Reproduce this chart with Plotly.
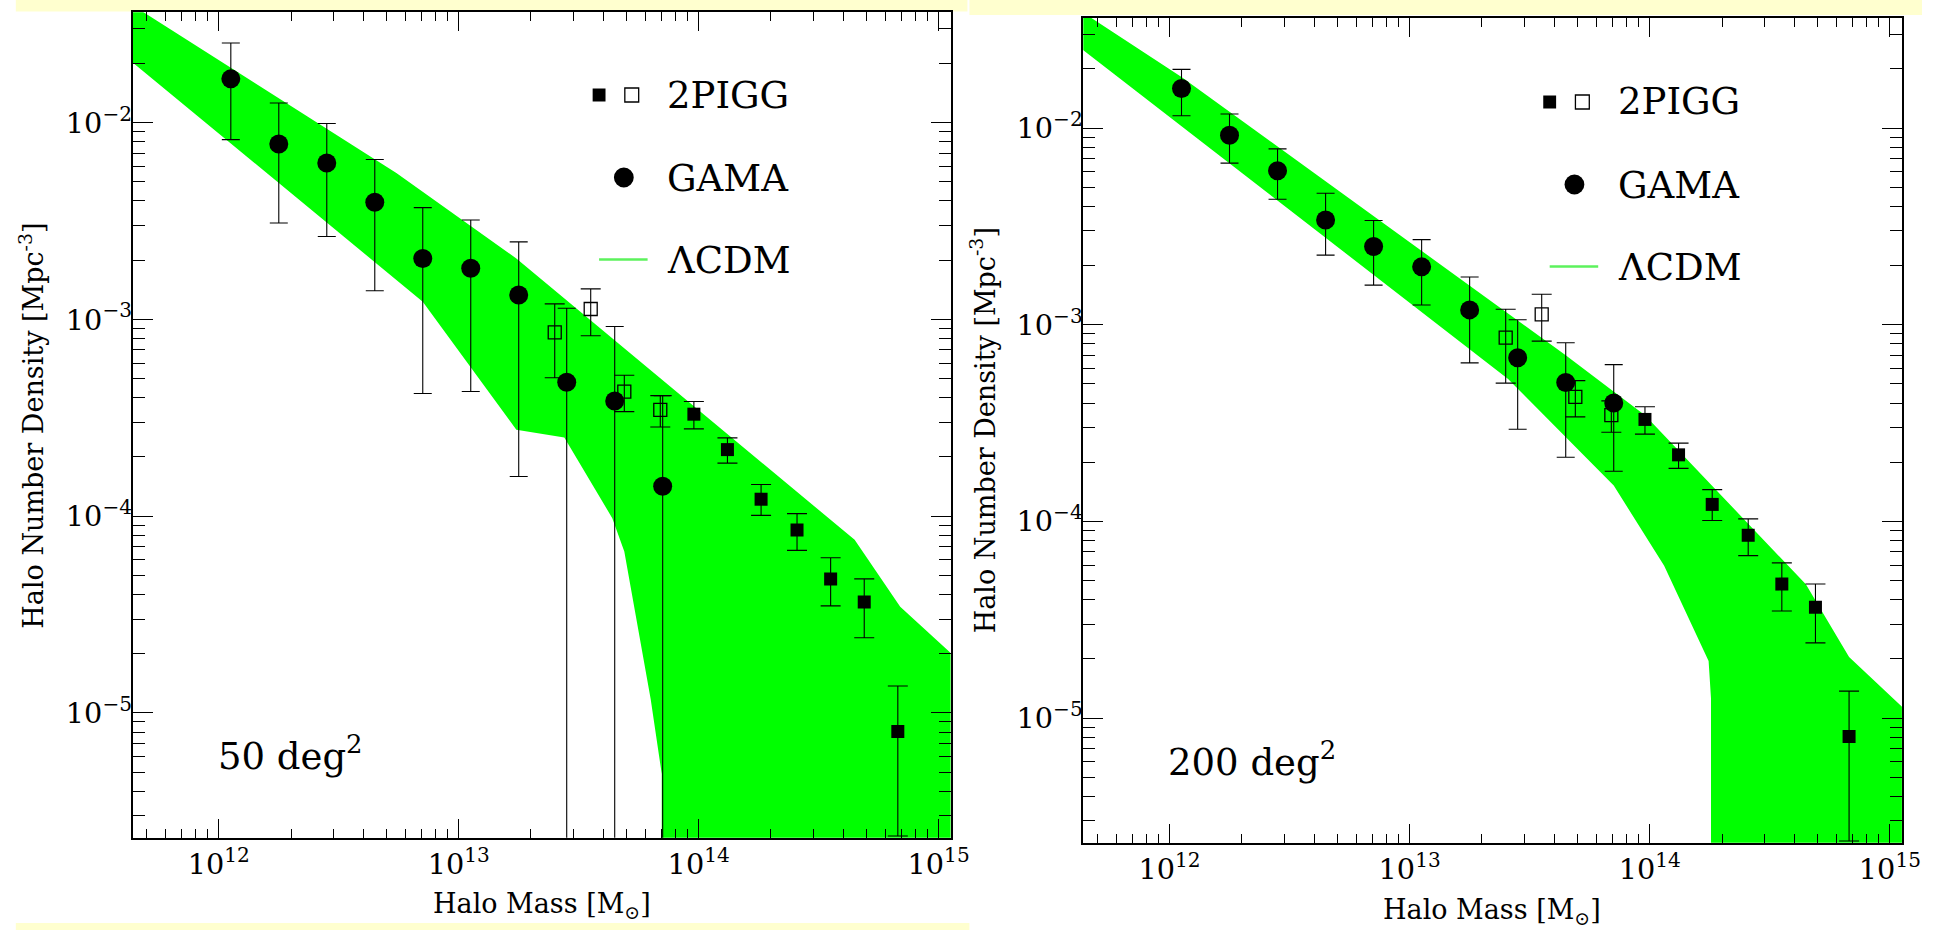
import plotly.graph_objects as go

W, H = 1941, 930

# ---------------- data ----------------
gama_mass = [1.122e12, 1.778e12, 2.818e12, 4.467e12, 7.079e12,
             1.122e13, 1.778e13, 2.818e13, 4.467e13, 7.079e13]

gama50_n = [1.67e-2, 7.8e-3, 6.24e-3, 3.94e-3, 2.04e-3, 1.82e-3, 1.33e-3, 4.8e-4, 3.85e-4, 1.42e-4]
gama50_hi = [2.54e-2, 1.26e-2, 9.9e-3, 6.5e-3, 3.7e-3, 3.2e-3, 2.48e-3, 1.14e-3, 9.2e-4, 4.1e-4]
gama50_lo = [8.2e-3, 3.09e-3, 2.64e-3, 1.40e-3, 4.2e-4, 4.3e-4, 1.59e-4, 1e-7, 1e-7, 1e-7]

gama200_n = [1.59e-2, 9.2e-3, 6.07e-3, 3.41e-3, 2.5e-3, 1.97e-3, 1.19e-3, 6.8e-4, 5.09e-4, 4.0e-4]
gama200_hi = [1.99e-2, 1.18e-2, 7.84e-3, 4.66e-3, 3.39e-3, 2.71e-3, 1.75e-3, 1.06e-3, 8.1e-4, 6.27e-4]
gama200_lo = [1.156e-2, 6.64e-3, 4.35e-3, 2.26e-3, 1.59e-3, 1.26e-3, 6.4e-4, 2.94e-4, 2.12e-4, 1.8e-4]

pigg_open_mass = [2.512e13, 3.548e13, 4.898e13, 6.918e13]
pigg_open_n = [8.6e-4, 1.13e-3, 4.3e-4, 3.47e-4]
pigg_open_hi = [1.2e-3, 1.43e-3, 5.2e-4, 4.1e-4]
pigg_open_lo = [5.05e-4, 8.26e-4, 3.4e-4, 2.84e-4]

pigg_mass = [9.55e13, 1.318e14, 1.820e14, 2.570e14, 3.548e14, 4.898e14, 6.761e14]
pigg_n = [3.3e-4, 2.18e-4, 1.22e-4, 8.5e-5, 4.8e-5, 3.66e-5, 8.05e-6]
pigg_hi = [3.83e-4, 2.5e-4, 1.45e-4, 1.03e-4, 6.15e-5, 4.8e-5, 1.37e-5]
pigg_lo = [2.78e-4, 1.86e-4, 1.01e-4, 6.7e-5, 3.5e-5, 2.41e-5, 2.37e-6]

# LCDM band outlines (upper edge left->right, lower edge left->right)
lcdm50_up_mass = [3.162e11, 5.495e12, 1.738e13, 4.467e14, 6.918e14, 1.259e15]
lcdm50_up_n = [5.08e-2, 5.546e-3, 2.042e-3, 7.586e-5, 3.467e-5, 1.778e-5]
lcdm50_lo_mass = [3.162e11, 7.079e12, 1.738e13, 2.754e13, 4.365e13, 4.898e13, 6.310e13, 7.015e13, 7.015e13, 1.259e15]
lcdm50_lo_n = [2.805e-2, 1.230e-3, 2.754e-4, 2.512e-4, 9.772e-5, 6.607e-5, 1.175e-5, 4.898e-6, 3.162e-7, 3.162e-7]

lcdm200_up_mass = [3.162e11, 1.122e12, 4.467e13, 9.550e13, 4.467e14, 6.761e14, 1.259e15]
lcdm200_up_n = [5.01e-2, 1.820e-2, 6.998e-4, 3.467e-4, 4.786e-5, 2.042e-5, 1.0e-5]
lcdm200_lo_mass = [3.162e11, 2.570e13, 7.079e13, 1.148e14, 1.758e14, 1.799e14, 1.799e14, 1.259e15]
lcdm200_lo_n = [3.388e-2, 5.297e-4, 1.521e-4, 5.957e-5, 1.950e-5, 1.259e-5, 3.162e-7, 3.162e-7]

panel_labels = ["50 deg<sup>2</sup>", "200 deg<sup>2</sup>"]
legend_names = ["2PIGG", "GAMA", "\u039bCDM"]

# ---------------- layout helpers ----------------
def px(x):
    return x / W

def py(y):
    return 1 - y / H

FONT = "DejaVu Serif"
GREEN = "#00FF00"
LEG_GREEN = "#5CF25C"

fig = go.Figure()

def errs(n, hi, lo):
    return [h - v for v, h in zip(n, hi)], [v - l for v, l in zip(n, lo)]

def add_panel(k, gn, ghi, glo, up_m, up_n, lo_m, lo_n):
    xa = "x" if k == 0 else "x2"
    ya = "y" if k == 0 else "y2"
    # band
    fig.add_trace(go.Scatter(
        x=up_m + lo_m[::-1], y=up_n + lo_n[::-1], fill="toself",
        fillcolor=GREEN, line=dict(width=0, color=GREEN), mode="lines",
        hoverinfo="skip", showlegend=False, xaxis=xa, yaxis=ya))
    # GAMA
    a, b = errs(gn, ghi, glo)
    fig.add_trace(go.Scatter(
        x=gama_mass, y=gn, mode="markers",
        marker=dict(symbol="circle", size=19, color="black"),
        error_y=dict(type="data", symmetric=False, array=a, arrayminus=b,
                     color="black", thickness=1.1, width=9),
        showlegend=False, xaxis=xa, yaxis=ya))
    # 2PIGG open
    a, b = errs(pigg_open_n, pigg_open_hi, pigg_open_lo)
    fig.add_trace(go.Scatter(
        x=pigg_open_mass, y=pigg_open_n, mode="markers",
        marker=dict(symbol="square-open", size=13, color="black", line=dict(width=1.3)),
        error_y=dict(type="data", symmetric=False, array=a, arrayminus=b,
                     color="black", thickness=1.1, width=10),
        showlegend=False, xaxis=xa, yaxis=ya))
    # 2PIGG filled
    a, b = errs(pigg_n, pigg_hi, pigg_lo)
    fig.add_trace(go.Scatter(
        x=pigg_mass, y=pigg_n, mode="markers",
        marker=dict(symbol="square", size=13, color="black"),
        error_y=dict(type="data", symmetric=False, array=a, arrayminus=b,
                     color="black", thickness=1.1, width=10),
        showlegend=False, xaxis=xa, yaxis=ya))

add_panel(0, gama50_n, gama50_hi, gama50_lo, lcdm50_up_mass, lcdm50_up_n, lcdm50_lo_mass, lcdm50_lo_n)
add_panel(1, gama200_n, gama200_hi, gama200_lo, lcdm200_up_mass, lcdm200_up_n, lcdm200_lo_mass, lcdm200_lo_n)

def xaxis_cfg(dom):
    return dict(type="log", range=[11.641, 15.05], domain=dom, dtick=1,
                exponentformat="power", showexponent="all",
                showline=True, linecolor="black", linewidth=2, mirror="allticks",
                ticks="inside", ticklen=19, tickwidth=1.3, tickcolor="black",
                minor=dict(ticks="inside", ticklen=9, tickwidth=1.1, tickcolor="black", dtick="D1"),
                showgrid=False, zeroline=False, ticklabelstandoff=1,
                tickfont=dict(family=FONT, size=23, color="black"))

def yaxis_cfg(dom, anchor):
    return dict(type="log", range=[-5.634, -1.439], domain=dom, dtick=1,
                exponentformat="power", showexponent="all", anchor=anchor,
                showline=True, linecolor="black", linewidth=2, mirror="allticks",
                ticks="inside", ticklen=20, tickwidth=1.3, tickcolor="black",
                minor=dict(ticks="inside", ticklen=12, tickwidth=1.1, tickcolor="black", dtick="D1"),
                showgrid=False, zeroline=False, ticklabelstandoff=-6,
                tickfont=dict(family=FONT, size=23, color="black"))

shapes = []
# pale yellow page bands
YEL = "#FFFFCF"
for (x0, y0, x1, y1) in [(16, 0, 977, 11.5), (979, 0, 1941, 15), (16, 923, 979, 930)]:
    shapes.append(dict(type="rect", xref="paper", yref="paper", x0=px(x0), x1=px(x1),
                       y0=py(y1), y1=py(y0), fillcolor=YEL, line=dict(width=0), layer="below"))

annotations = []
for k, (dx, dy) in enumerate([(0, 0), (960, 7)]):
    # legend symbols
    cx, cy, s = 605 + dx, 95 + dy, 13
    shapes.append(dict(type="rect", xref="paper", yref="paper",
                       x0=px(cx - s / 2), x1=px(cx + s / 2), y0=py(cy + s / 2), y1=py(cy - s / 2),
                       fillcolor="black", line=dict(width=0)))
    cx, s = 638 + dx, 14
    shapes.append(dict(type="rect", xref="paper", yref="paper",
                       x0=px(cx - s / 2), x1=px(cx + s / 2), y0=py(cy + s / 2), y1=py(cy - s / 2),
                       fillcolor="rgba(0,0,0,0)", line=dict(width=1.3, color="black")))
    cx, cy, r = 630 + dx, 177.5 + dy, 10
    shapes.append(dict(type="circle", xref="paper", yref="paper",
                       x0=px(cx - r), x1=px(cx + r), y0=py(cy + r), y1=py(cy - r),
                       fillcolor="black", line=dict(width=0)))
    shapes.append(dict(type="line", xref="paper", yref="paper",
                       x0=px(605 + dx), x1=px(654 + dx), y0=py(259.5 + dy), y1=py(259.5 + dy),
                       line=dict(color=LEG_GREEN, width=2.5)))
    for name, yy in zip(legend_names, [95, 178, 260]):
        annotations.append(dict(text=name, xref="paper", yref="paper", x=px(672 + dx), y=py(yy + dy),
                                xanchor="left", yanchor="middle", showarrow=False,
                                font=dict(family=FONT, size=37, color="black")))
    # panel label
    annotations.append(dict(text=panel_labels[k], xref="paper", yref="paper",
                            x=px(218 + dx), y=py(753 + (6 if k else 0)),
                            xanchor="left", yanchor="middle", showarrow=False,
                            font=dict(family=FONT, size=37, color="black")))
    # axis titles
    annotations.append(dict(text="Halo Mass [M<sub>\u2299</sub>]", xref="paper", yref="paper",
                            x=px(547 + dx), y=py(905 + (6 if k else 0)),
                            xanchor="center", yanchor="middle", showarrow=False,
                            font=dict(family=FONT, size=27, color="black")))
    annotations.append(dict(text="Halo Number Density [Mpc<sup>-3</sup>]", xref="paper", yref="paper",
                            x=px(32 + dx), y=py(426 + (4 if k else 0)), textangle=-90,
                            xanchor="center", yanchor="middle", showarrow=False,
                            font=dict(family=FONT, size=27, color="black")))

fig.update_layout(
    width=W, height=H, margin=dict(l=0, r=0, t=0, b=0),
    paper_bgcolor="white", plot_bgcolor="rgba(0,0,0,0)",
    showlegend=False,
    xaxis=xaxis_cfg([px(134), px(960)]),
    yaxis=yaxis_cfg([py(837.7), py(12.3)], "x"),
    xaxis2=dict(xaxis_cfg([px(1094), px(1920.7)]), anchor="y2"),
    yaxis2=yaxis_cfg([py(842.7), py(17.8)], "x2"),
    shapes=shapes, annotations=annotations,
)

fig.write_html("out.html")
